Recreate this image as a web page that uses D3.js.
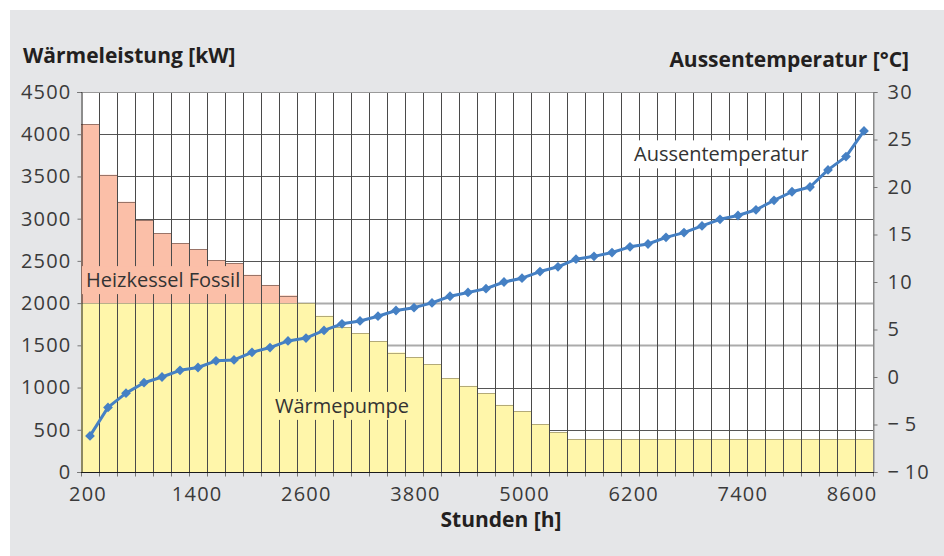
<!DOCTYPE html>
<html>
<head>
<meta charset="utf-8">
<script src="https://cdn.jsdelivr.net/npm/d3@7/dist/d3.min.js"></script>
<style>
  html, body { margin: 0; padding: 0; background: #ffffff; }
  svg { display: block; font-family: "Open Sans", "Noto Sans", sans-serif; }
</style>
</head>
<body>
<svg id="chart" width="944" height="556"></svg>
<script>
// Heat output per time bin (kW), split into heat pump share and fossil boiler share
const waermepumpe = [2000, 2000, 2000, 2000, 2000, 2000, 2000, 2000, 2000, 2000, 2000, 2000, 2000,
  1850, 1715, 1645, 1550, 1415, 1360, 1275, 1110, 1020, 935, 795, 720, 565, 470,
  390, 390, 390, 390, 390, 390, 390, 390, 390, 390, 390, 390, 390, 390, 390, 390, 390];
const heizkessel = [2120, 1520, 1200, 980, 830, 710, 640, 505, 470, 335, 215, 90,
  0, 0, 0, 0, 0, 0, 0, 0, 0, 0, 0, 0, 0, 0, 0, 0, 0, 0, 0, 0, 0, 0, 0, 0, 0, 0, 0, 0, 0, 0, 0, 0];
// Outside temperature (°C) for each bin
const aussentemperatur = [-6.2, -3.2, -1.7, -0.6, 0.0, 0.7, 1.0, 1.7, 1.8, 2.6, 3.1, 3.8, 4.1, 4.9,
  5.6, 5.9, 6.4, 7.0, 7.3, 7.8, 8.5, 8.9, 9.3, 10.0, 10.4, 11.1, 11.6, 12.4, 12.7, 13.1,
  13.7, 14.0, 14.7, 15.2, 15.9, 16.6, 17.0, 17.6, 18.6, 19.5, 20.0, 21.8, 23.2, 25.9];
// Axis ticks
const leistungTicks = [0, 500, 1000, 1500, 2000, 2500, 3000, 3500, 4000, 4500];
const temperaturTicks = [-10, -5, 0, 5, 10, 15, 20, 25, 30];
const stundenTicks = [200, 1400, 2600, 3800, 5000, 6200, 7400, 8600];
const bins = d3.range(waermepumpe.length);

const svg = d3.select("#chart");
const W = 944, H = 556;
const plot = { left: 81, right: 873, top: 92, bottom: 472 };

// background panel
svg.append("rect").attr("x", 10).attr("y", 10).attr("width", W - 10).attr("height", H - 10)
  .attr("fill", "#e5e6e8");
svg.append("rect").attr("x", plot.left).attr("y", plot.top)
  .attr("width", plot.right - plot.left).attr("height", plot.bottom - plot.top)
  .attr("fill", "#ffffff");

const x = d3.scaleBand().domain(bins).range([plot.left, plot.right]).paddingInner(0).paddingOuter(0);
const xHours = d3.scaleLinear().domain([200, 8600]).range([88, 852]);
const y = d3.scaleLinear().domain([0, 4500]).range([plot.bottom, plot.top]);
const yT = d3.scaleLinear().domain([-10, 30]).range([plot.bottom, plot.top]);

const textColor = "#3a3a3a";
const tickFont = 20, tickSpacing = 1.2;

// horizontal gridlines
const gGrid = svg.append("g");
gGrid.selectAll("line.h").data(leistungTicks.filter(d => d > 0 && d < 4500)).join("line")
  .attr("x1", plot.left).attr("x2", plot.right)
  .attr("y1", d => Math.round(y(d)) + 0.5).attr("y2", d => Math.round(y(d)) + 0.5)
  .attr("stroke", d => (d === 1500 || d === 2000) ? "#ababab" : "#555555")
  .attr("stroke-width", d => (d === 1500 || d === 2000) ? 2 : 1);

// stacked bars
const stacked = bins.map(i => ({ i, wp: waermepumpe[i], hk: heizkessel[i] }));
const gBars = svg.append("g");
gBars.selectAll("rect.wp").data(stacked).join("rect")
  .attr("x", d => x(d.i)).attr("width", x.bandwidth())
  .attr("y", d => y(d.wp)).attr("height", d => y(0) - y(d.wp))
  .attr("fill", "#fff6aa");
gBars.selectAll("rect.hk").data(stacked.filter(d => d.hk > 0)).join("rect")
  .attr("x", d => x(d.i)).attr("width", x.bandwidth())
  .attr("y", d => y(d.wp + d.hk)).attr("height", d => y(d.wp) - y(d.wp + d.hk))
  .attr("fill", "#fbbfa8");
// bar top edges
gBars.selectAll("line.wpTop").data(stacked).join("line")
  .attr("x1", d => x(d.i)).attr("x2", d => x(d.i) + x.bandwidth())
  .attr("y1", d => Math.round(y(d.wp)) + 0.5).attr("y2", d => Math.round(y(d.wp)) + 0.5)
  .attr("stroke", d => d.hk > 0 ? "#b9b08a" : "#b3aa78").attr("stroke-width", 1);
gBars.selectAll("line.hkTop").data(stacked.filter(d => d.hk > 0)).join("line")
  .attr("x1", d => x(d.i)).attr("x2", d => x(d.i) + x.bandwidth())
  .attr("y1", d => Math.round(y(d.wp + d.hk)) + 0.5).attr("y2", d => Math.round(y(d.wp + d.hk)) + 0.5)
  .attr("stroke", "#9a7468").attr("stroke-width", 1);

// vertical lines at every bin boundary
const bounds = bins.slice(1).map(i => x(i));
svg.append("g").selectAll("line").data(bounds).join("line")
  .attr("x1", d => Math.round(d) + 0.5).attr("x2", d => Math.round(d) + 0.5)
  .attr("y1", plot.top).attr("y2", plot.bottom)
  .attr("stroke", "#4a4a4a").attr("stroke-width", 1);

// plot frame: top and right in grey, left and bottom dark
svg.append("line").attr("x1", plot.left).attr("x2", plot.right)
  .attr("y1", plot.top + 0.5).attr("y2", plot.top + 0.5).attr("stroke", "#9a9a9a");
svg.append("line").attr("x1", plot.right + 0.5).attr("x2", plot.right + 0.5)
  .attr("y1", plot.top).attr("y2", plot.bottom).attr("stroke", "#8a8a8a");

// left axis
const axL = svg.append("g").attr("transform", `translate(${plot.left + 0.5},0)`)
  .call(d3.axisLeft(y).tickValues(leistungTicks).tickSize(4).tickPadding(6).tickFormat(d3.format("d")));
axL.select(".domain").attr("stroke", "#1a1a1a");
axL.selectAll(".tick line").attr("stroke", "#777");
axL.selectAll("text").attr("font-size", tickFont).attr("letter-spacing", tickSpacing)
  .attr("fill", textColor).attr("font-family", "Open Sans, sans-serif");

// right axis
const fmtT = d => d < 0 ? "\u2212\u2009" + Math.abs(d) : String(d);
const axR = svg.append("g").attr("transform", `translate(${plot.right + 0.5},0)`)
  .call(d3.axisRight(yT).tickValues(temperaturTicks).tickSize(4).tickPadding(10).tickFormat(fmtT));
axR.select(".domain").attr("stroke", "#8a8a8a");
axR.selectAll(".tick line").attr("stroke", "#777");
axR.selectAll("text").attr("font-size", tickFont).attr("letter-spacing", tickSpacing)
  .attr("fill", textColor).attr("font-family", "Open Sans, sans-serif");

// bottom axis: tick marks at bin boundaries, hour labels on a linear hour scale
const axB = svg.append("g").attr("transform", `translate(0,${plot.bottom + 0.5})`);
axB.selectAll("line.tk").data([plot.left, ...bounds, plot.right]).join("line")
  .attr("x1", d => Math.round(d) + 0.5).attr("x2", d => Math.round(d) + 0.5)
  .attr("y1", 0).attr("y2", 4).attr("stroke", "#777");
axB.append("line").attr("x1", plot.left).attr("x2", plot.right + 1)
  .attr("y1", 0).attr("y2", 0).attr("stroke", "#1a1a1a");
axB.selectAll("text").data(stundenTicks).join("text")
  .attr("x", d => xHours(d)).attr("y", 28)
  .attr("text-anchor", "middle").attr("font-size", tickFont).attr("letter-spacing", tickSpacing)
  .attr("fill", textColor)
  .text(d => d);

// axis titles
svg.append("text").attr("x", 23).attr("y", 63)
  .attr("font-size", 21).attr("font-weight", 700).attr("fill", "#231f20")
  .text("Wärmeleistung [kW]");
svg.append("text").attr("x", 909).attr("y", 67).attr("text-anchor", "end")
  .attr("font-size", 21).attr("font-weight", 700).attr("fill", "#231f20")
  .text("Aussentemperatur [°C]");
svg.append("text").attr("x", 501).attr("y", 527).attr("text-anchor", "middle")
  .attr("font-size", 21).attr("font-weight", 700).attr("fill", "#231f20")
  .text("Stunden [h]");

// series labels with backgrounds
function seriesLabel(txt, tx, ty, bg) {
  const g = svg.append("g");
  const r = g.append("rect").attr("fill", bg);
  const t = g.append("text").attr("x", tx).attr("y", ty)
    .attr("font-size", 20).attr("fill", "#333").text(txt);
  const b = t.node().getBBox();
  r.attr("x", b.x - 4).attr("y", b.y).attr("width", b.width + 6).attr("height", b.height + 1);
}
seriesLabel("Heizkessel Fossil", x(0) + 5, y(2000) - 16, "#fbbfa8");
seriesLabel("Wärmepumpe", x(10) + 14, y(700), "#fff6aa");

// temperature line with diamond markers
const line = d3.line().x((d, i) => x(i) + x.bandwidth() / 2).y(d => yT(d));
const gLine = svg.append("g");
seriesLabel("Aussentemperatur", x(30) + 13, yT(22.7), "#ffffff");
gLine.append("path").datum(aussentemperatur).attr("d", line)
  .attr("fill", "none").attr("stroke", "#4580c4").attr("stroke-width", 3)
  .attr("stroke-linejoin", "round");
gLine.selectAll("path.m").data(aussentemperatur).join("path")
  .attr("d", d3.symbol(d3.symbolSquare, 48))
  .attr("transform", (d, i) => `translate(${x(i) + x.bandwidth() / 2},${yT(d)}) rotate(45)`)
  .attr("fill", "#4580c4");
</script>
</body>
</html>
